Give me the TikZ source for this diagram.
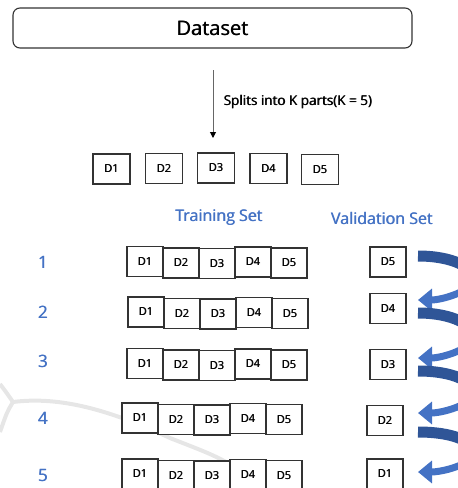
\documentclass[tikz,border=0pt]{standalone}
\usepackage{fontspec}
\setmainfont{Open Sans}
\newcommand\medw[1]{\mbox{\rlap{#1}\hspace{0.55pt}#1}}
\usetikzlibrary{arrows.meta}
\definecolor{tblue}{HTML}{4472C4}
\definecolor{dblue}{HTML}{2F5597}
\definecolor{wmark}{HTML}{E6E6E6}
\begin{document}
\begin{tikzpicture}[x=1pt,y=-1pt,
  dbox/.style={draw=black!80, fill=white, line width=1.1pt, minimum width=36pt, minimum height=30pt, inner sep=0pt, font=\fontsize{11}{13}\selectfont},
  topbox/.style={dbox, minimum width=37pt},
  bluetext/.style={text=tblue, font=\fontsize{16}{18}\selectfont},
  numtext/.style={text=tblue, font=\fontsize{17}{19}\selectfont},
  darkband/.style={dblue, line width=11pt},
  lightband/.style={tblue, line width=7pt, -{Triangle[length=14pt,width=22pt]}}]
\useasboundingbox (0,0) rectangle (458,488);
\clip (0,0) rectangle (458,488);
% watermark
\draw[wmark, line width=4pt] (0,384) .. controls (6,392) .. (13,402)
  .. controls (60,396) and (110,410) .. (170,438) .. controls (200,450) and (225,458) .. (245,475);
\draw[wmark, line width=4pt] (13,402) .. controls (7,412) .. (0,432);
% dataset
\node[draw=black!80, line width=1.1pt, rounded corners=7pt, minimum width=399pt, minimum height=40pt,
  font=\fontsize{20}{22}\selectfont] (dataset) at (212.5,28) {\medw{Dataset}};
\coordinate (sa) at (213,70);
\coordinate (sb) at (213,138);
\draw[black!60, line width=1pt, -{Triangle[length=6pt,width=6pt,black]}] (sa) -- (sb);
\node[anchor=west, font=\fontsize{13.5}{15}\selectfont] (split) at (220,102) {\medw{Splits into K parts(K = 5)}};
% top boxes
\node[topbox] (t1) at (111.5,169) {\medw{D1}};
\node[topbox] (t2) at (164,168.5) {\medw{D2}};
\node[topbox] (t3) at (216,168) {\medw{D3}};
\node[topbox] (t4) at (268.5,168.5) {\medw{D4}};
\node[topbox] (t5) at (320,169.5) {\medw{D5}};
% headings
\node[bluetext] (train) at (219,218) {\medw{Training Set}};
\node[bluetext] (valid) at (382,218) {\medw{Validation Set}};
% row numbers
\node[numtext] (n1) at (43,262.5) {\medw{1}};
\node[numtext] (n2) at (43,312) {\medw{2}};
\node[numtext] (n3) at (43,361.5) {\medw{3}};
\node[numtext] (n4) at (43,418.5) {\medw{4}};
\node[numtext] (n5) at (43,475.5) {\medw{5}};
% training rows
\foreach \r/\x/\y in {1/127/262, 2/128/312.5, 3/127/364, 4/122/418.5, 5/122/474.5}{
  \node[dbox] (r\r a) at (\x+18,\y-0.5) {\medw{D1}};
  \node[dbox] (r\r b) at (\x+54,\y+1) {\medw{D2}};
  \node[dbox] (r\r c) at (\x+90,\y+1.5) {\medw{D3}};
  \node[dbox] (r\r d) at (\x+126,\y) {\medw{D4}};
  \node[dbox] (r\r e) at (\x+162,\y+1) {\medw{D5}};
}
% validation boxes
\node[dbox] (v1) at (388,262) {\medw{D5}};
\node[dbox] (v2) at (388,308.5) {\medw{D4}};
\node[dbox] (v3) at (388,364.5) {\medw{D3}};
\node[dbox] (v4) at (385,420.5) {\medw{D2}};
\node[dbox] (v5) at (385,474) {\medw{D1}};
% curved arrows
\foreach \s/\t/\n in {256/300/1, 313/358/2, 371/413/3, 432/472/4}{
  \pgfmathsetmacro\m{\s+0.62*(\t-\s)}
  \coordinate (as\n) at (418,\s);
  \coordinate (am\n) at (476,\m);
  \coordinate (ab\n) at (474,\m-4);
  \coordinate (at\n) at (418,\t);
  \draw[darkband] (as\n) .. controls +(34,0) and +(0,-16) .. (am\n);
  \draw[lightband] (ab\n) .. controls +(-2,12) and +(24,0) .. (at\n);
}
\end{tikzpicture}
\end{document}
